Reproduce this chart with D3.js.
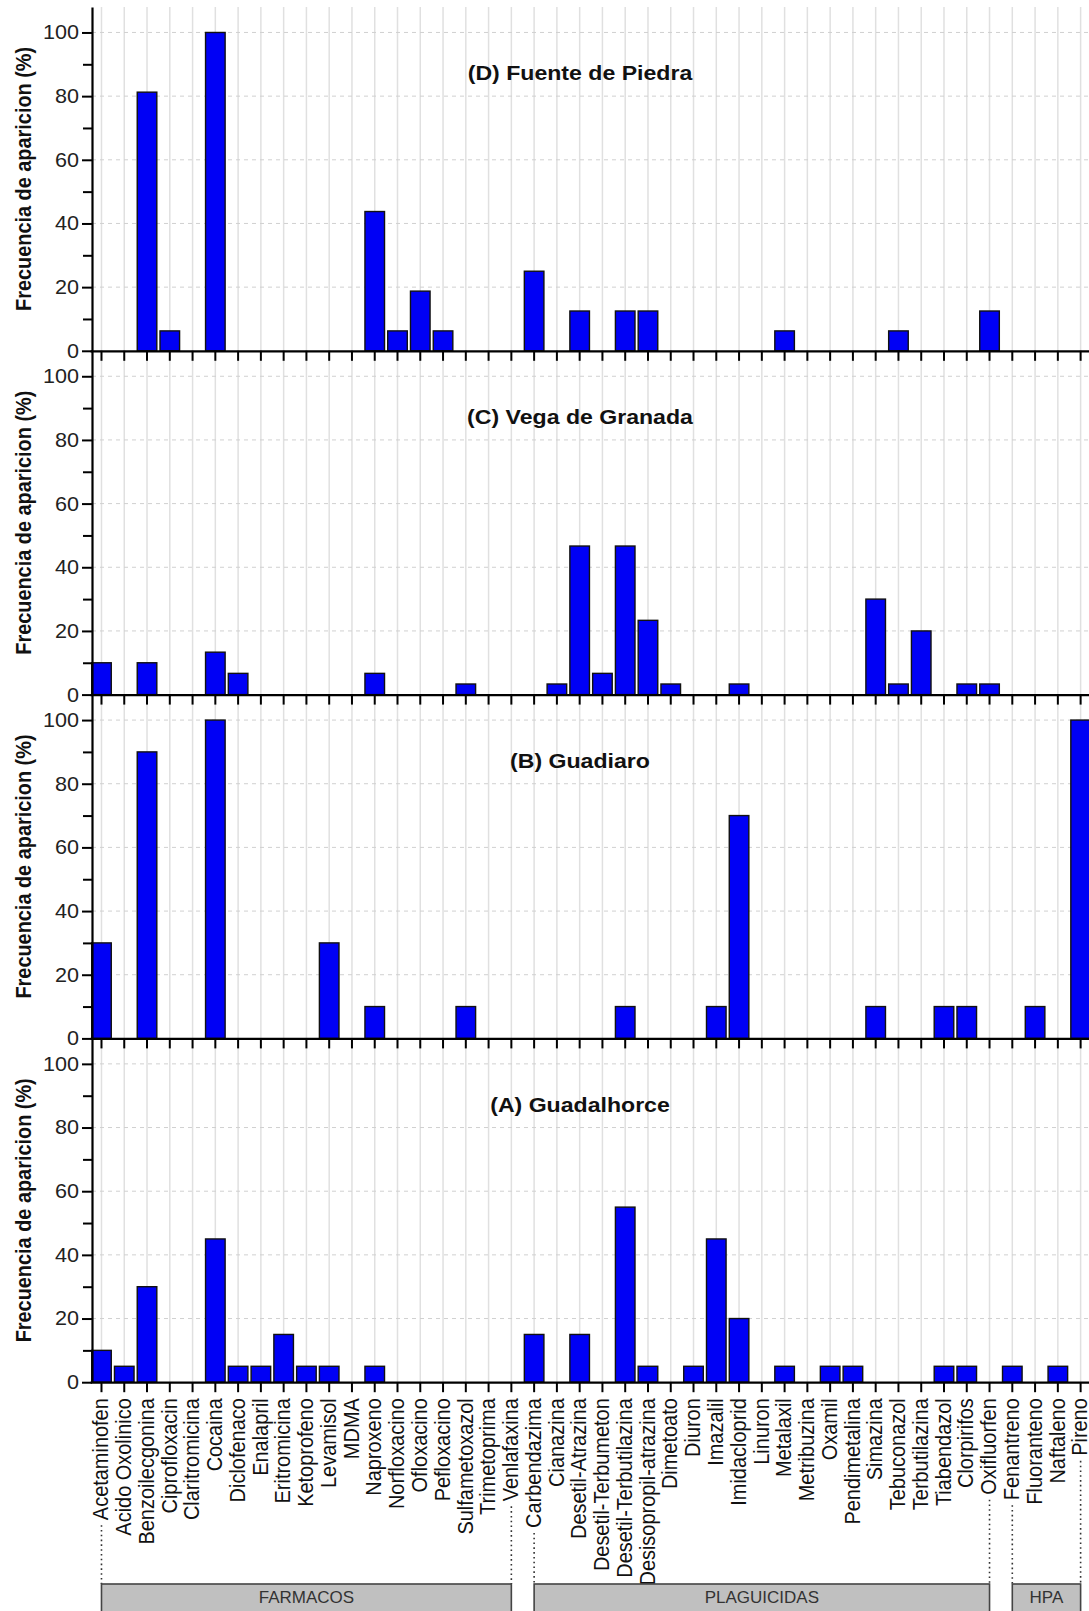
<!DOCTYPE html>
<html>
<head>
<meta charset="utf-8">
<script src="https://cdn.jsdelivr.net/npm/d3@7"></script>
<style>
  body { margin: 0; background: #fff; }
  text { font-family: "Liberation Sans", Arial, sans-serif; }
</style>
</head>
<body>
<div id="chart"></div>
<script>
// Categories (compounds), in axis order
var categories = ["Acetaminofen", "Acido Oxolinico", "Benzoilecgonina", "Ciprofloxacin", "Claritromicina",
    "Cocaina", "Diclofenaco", "Enalapril", "Eritromicina", "Ketoprofeno", "Levamisol", "MDMA", "Naproxeno",
    "Norfloxacino", "Ofloxacino", "Pefloxacino", "Sulfametoxazol", "Trimetoprima", "Venlafaxina",
    "Carbendazima", "Cianazina", "Desetil-Atrazina", "Desetil-Terbumeton", "Desetil-Terbutilazina",
    "Desisopropil-atrazina", "Dimetoato", "Diuron", "Imazalil", "Imidacloprid", "Linuron", "Metalaxil",
    "Metribuzina", "Oxamil", "Pendimetalina", "Simazina", "Tebuconazol", "Terbutilazina", "Tiabendazol",
    "Clorpirifos", "Oxifluorfen", "Fenantreno", "Fluoranteno", "Naftaleno", "Pireno"];

// Frecuencia de aparicion (%) per site
var fuenteDePiedra = [0, 0, 81.25, 6.25, 0, 100, 0, 0, 0, 0,
    0, 0, 43.75, 6.25, 18.75, 6.25, 0, 0, 0, 25,
    0, 12.5, 0, 12.5, 12.5, 0, 0, 0, 0, 0,
    6.25, 0, 0, 0, 0, 6.25, 0, 0, 0, 12.5,
    0, 0, 0, 0];
var vegaDeGranada = [10, 0, 10, 0, 0, 13.33, 6.67, 0, 0, 0,
    0, 0, 6.67, 0, 0, 0, 3.33, 0, 0, 0,
    3.33, 46.67, 6.67, 46.67, 23.33, 3.33, 0, 0, 3.33, 0,
    0, 0, 0, 0, 30, 3.33, 20, 0, 3.33, 3.33,
    0, 0, 0, 0];
var guadiaro = [30, 0, 90, 0, 0, 100, 0, 0, 0, 0,
    30, 0, 10, 0, 0, 0, 10, 0, 0, 0,
    0, 0, 0, 10, 0, 0, 0, 10, 70, 0,
    0, 0, 0, 0, 10, 0, 0, 10, 10, 0,
    0, 10, 0, 100];
var guadalhorce = [10, 5, 30, 0, 0, 45, 5, 5, 15, 5,
    5, 0, 5, 0, 0, 0, 0, 0, 0, 15,
    0, 15, 0, 55, 5, 0, 5, 45, 20, 0,
    5, 0, 5, 5, 0, 0, 0, 5, 5, 0,
    5, 0, 5, 0];

// panels from top to bottom
var panelTitles = ["(D) Fuente de Piedra", "(C) Vega de Granada", "(B) Guadiaro", "(A) Guadalhorce"];
var panelSeries = [fuenteDePiedra, vegaDeGranada, guadiaro, guadalhorce];

var majorTicks = [0, 20, 40, 60, 80, 100];
var minorTicks = [10, 30, 50, 70, 90];

// compound groups
var groupNames = ["FARMACOS", "PLAGUICIDAS", "HPA"];
var groupFirst = ["Acetaminofen", "Carbendazima", "Fenantreno"];
var groupLast = ["Venlafaxina", "Oxifluorfen", "Pireno"];

var svg = d3.select("#chart").append("svg").attr("width", 1089).attr("height", 1611);
svg.append("rect").attr("width", 1089).attr("height", 1611).attr("fill", "#fff");

// layers so the ticks of one panel are not hidden by the grid of the next
var gridLayer = svg.append("g");
var barLayer = svg.append("g");
var axisLayer = svg.append("g");
var textLayer = svg.append("g");

var margin = { left: 92, top: 7 };
var panelH = 343.8;
var font = "Liberation Sans, Arial, sans-serif";

var x = d3.scaleBand()
    .domain(categories)
    .range([90.1, 1092])
    .paddingInner(0.14)
    .paddingOuter(0.07);
var cx = function (c) { return x(c) + x.bandwidth() / 2; };

var lastZero = 0;
var labelStart = 16;
var boxTop = 1584;

panelSeries.forEach(function (series, k) {
    var top = margin.top + k * panelH;
    var bottom = top + panelH;
    lastZero = bottom;

    var y = d3.scaleLinear().domain([0, 108]).range([bottom, top]);

    // grid
    gridLayer.append("g").selectAll("line")
        .data(categories)
        .enter().append("line")
        .attr("x1", cx).attr("x2", cx)
        .attr("y1", top).attr("y2", bottom)
        .attr("stroke", "#e0e0e0").attr("stroke-width", 1.5);
    gridLayer.append("g").selectAll("line")
        .data(majorTicks.slice(1))
        .enter().append("line")
        .attr("x1", margin.left).attr("x2", 1089)
        .attr("y1", d => y(d)).attr("y2", d => y(d))
        .attr("stroke", "#d0d0d0").attr("stroke-width", 1)
        .attr("stroke-dasharray", "4,4");

    // bars
    var data = categories.map(function (c, i) { return { name: c, value: series[i] }; })
        .filter(d => d.value > 0);
    barLayer.append("g").selectAll("rect")
        .data(data)
        .enter().append("rect")
        .attr("x", d => x(d.name))
        .attr("y", d => y(d.value))
        .attr("width", x.bandwidth())
        .attr("height", d => y(0) - y(d.value))
        .attr("fill", "#0000f5")
        .attr("stroke", "#111")
        .attr("stroke-width", 1.4);

    // x axis
    var xAxis = axisLayer.append("g")
        .attr("transform", "translate(0," + y(0) + ")")
        .call(d3.axisBottom(x).tickSize(10).tickSizeOuter(0).tickFormat(k === 3 ? null : ""));
    xAxis.select(".domain").attr("stroke-width", 2.2);
    xAxis.selectAll(".tick line").attr("stroke-width", 2);

    if (k === 3) {
        xAxis.selectAll(".tick text")
            .attr("class", "cat")
            .attr("font-size", 19.3)
            .attr("fill", "#111")
            .attr("font-family", font)
            .attr("text-anchor", "end")
            .attr("x", 0)
            .attr("y", 0)
            .attr("dy", "0.3em")
            .attr("transform", "scale(1.12,1) rotate(-90) translate(-" + labelStart + ",0)");
    }

    // y axis: major + minor
    var yAxis = axisLayer.append("g")
        .attr("transform", "translate(" + margin.left + ",0)")
        .call(d3.axisLeft(y).tickValues(majorTicks).tickSize(10).tickSizeOuter(0));
    yAxis.select(".domain").attr("stroke-width", 2.2);
    yAxis.selectAll(".tick line").attr("stroke-width", 2);
    yAxis.selectAll(".tick text")
        .attr("font-size", 20)
        .attr("fill", "#222")
        .attr("font-family", font)
        .attr("x", 0)
        .attr("transform", "translate(-13,0) scale(1.08,1)");

    axisLayer.append("g")
        .attr("transform", "translate(" + margin.left + ",0)")
        .call(d3.axisLeft(y).tickValues(minorTicks).tickSize(9).tickFormat("").tickSizeOuter(0))
        .call(a => a.select(".domain").remove())
        .selectAll(".tick line").attr("stroke-width", 2);

    // y title
    textLayer.append("text")
        .attr("class", "ytitle")
        .attr("transform", "translate(31," + (top + panelH / 2) + ") scale(1.12,1) rotate(-90)")
        .attr("text-anchor", "middle")
        .attr("font-size", 19.7)
        .attr("font-weight", "bold")
        .attr("fill", "#111")
        .text("Frecuencia de aparicion (%)");

    // panel title
    textLayer.append("text")
        .attr("transform", "translate(580," + y(85) + ") scale(1.1,1)")
        .attr("text-anchor", "middle")
        .attr("font-size", 21)
        .attr("font-weight", "bold")
        .attr("fill", "#111")
        .text(panelTitles[k]);
});

// fit the rotated texts to the lengths seen in the figure
function fitLength(sel, probe, target) {
    var node = sel.filter(function () { return this.textContent === probe; }).node();
    var h = node.getBoundingClientRect().height;
    var fs = +d3.select(node).attr("font-size") * target / h;
    sel.attr("font-size", fs);
}
var cats = svg.selectAll("text.cat");
fitLength(cats, "Desisopropil-atrazina", 188);
fitLength(svg.selectAll("text.ytitle"), "Frecuencia de aparicion (%)", 264);

// group brackets under the labels
groupNames.forEach(function (name, i) {
    var x0 = cx(groupFirst[i]), x1 = cx(groupLast[i]);
    [groupFirst[i], groupLast[i]].forEach(function (c) {
        var lab = cats.filter(d => d === c).node();
        var end = lab ? lab.getBoundingClientRect().bottom : lastZero + 120;
        textLayer.append("line")
            .attr("x1", cx(c)).attr("x2", cx(c))
            .attr("y1", end + 5)
            .attr("y2", boxTop)
            .attr("stroke", "#333")
            .attr("stroke-width", 1.6)
            .attr("stroke-dasharray", "1.6,3.2");
    });
    textLayer.append("rect")
        .attr("x", x0).attr("y", boxTop)
        .attr("width", x1 - x0).attr("height", 40)
        .attr("fill", "#c0c0c0")
        .attr("stroke", "#444")
        .attr("stroke-width", 1.6);
    textLayer.append("text")
        .attr("x", (x0 + x1) / 2).attr("y", boxTop + 19)
        .attr("text-anchor", "middle")
        .attr("font-size", 17)
        .attr("fill", "#333")
        .text(name);
});
</script>
</body>
</html>
